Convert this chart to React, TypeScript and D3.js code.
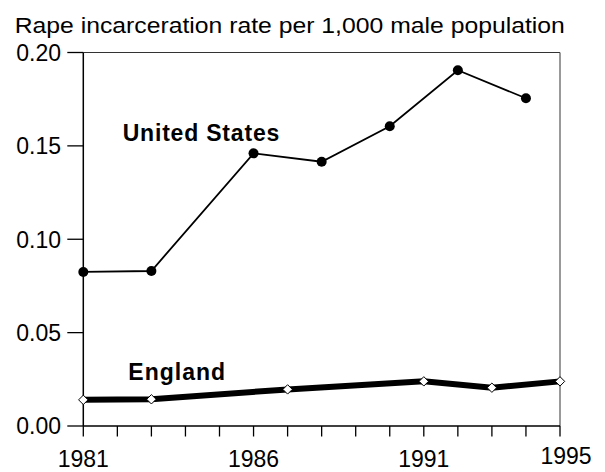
import React from "react";
import * as d3 from "d3";

const title = "Rape incarceration rate per 1,000 male population";
const usYears = [1981, 1983, 1986, 1988, 1990, 1992, 1994];
const usValues = [0.0825, 0.083, 0.146, 0.1415, 0.1605, 0.1905, 0.1755];
const engYears = [1981, 1983, 1987, 1991, 1993, 1995];
const engValues = [0.014, 0.0143, 0.0196, 0.0239, 0.0205, 0.0239];
const yTicks = [0, 0.05, 0.1, 0.15, 0.2];
const xTickLabels = [1981, 1986, 1991, 1995];
const seriesLabels = ["United States", "England"];

const W = 605, H = 472;
const L = 83.3, R = 560, T = 52.5, B = 426;
const FONT = "'Liberation Sans', Arial, Helvetica, sans-serif";

export default function App() {
  const x = d3.scaleLinear().domain([1981, 1995]).range([L, R]);
  const y = d3.scaleLinear().domain([0, 0.2]).range([B, T]);
  const line = d3.line<[number, number]>().x(d => x(d[0])).y(d => y(d[1]));
  const us: [number, number][] = usYears.map((yr, i) => [yr, usValues[i]]);
  const eng: [number, number][] = engYears.map((yr, i) => [yr, engValues[i]]);
  const years = d3.range(1981, 1996);
  const dS = 4.7;
  return (
    <svg width={W} height={H} style={{ position: "absolute", left: 0, top: 0, background: "#fff" }}>
      <text x={14.7} y={33} fontFamily={FONT} fontSize={22} fill="#000"
        transform="translate(14.7,0) scale(1.125,1) translate(-14.7,0)">{title}</text>
      {/* frame */}
      <line x1={L} x2={R} y1={T} y2={T} stroke="#333" strokeWidth={1.2} />
      <line x1={R} x2={R} y1={T} y2={B} stroke="#555" strokeWidth={1.2} />
      <line x1={L} x2={L} y1={T} y2={B} stroke="#000" strokeWidth={1.5} />
      <line x1={L} x2={R} y1={B} y2={B} stroke="#000" strokeWidth={1.5} />
      {/* y ticks */}
      {yTicks.map(t => (
        <g key={t}>
          <line x1={L - 16} x2={L} y1={y(t)} y2={y(t)} stroke="#000" strokeWidth={1.3} />
          <text x={61} y={y(t)} dy="0.36em" textAnchor="end" fontFamily={FONT} fontSize={23} fill="#000">
            {d3.format(".2f")(t)}
          </text>
        </g>
      ))}
      {/* x ticks */}
      {years.map(yr => (
        <line key={yr} x1={x(yr)} x2={x(yr)} y1={B} y2={B + 10.5} stroke="#000" strokeWidth={1.3} />
      ))}
      {xTickLabels.map((yr, i) => {
        const last = i === xTickLabels.length - 1;
        return (
          <text key={yr} x={x(yr) + (last ? 6 : 0)} y={last ? 464 : 467.3} textAnchor="middle"
            fontFamily={FONT} fontSize={23} fill="#000">{yr}</text>
        );
      })}
      {/* US */}
      <path d={line(us) || ""} fill="none" stroke="#000" strokeWidth={1.8} />
      {us.map((d, i) => (
        <circle key={i} cx={x(d[0])} cy={y(d[1])} r={5} fill="#000" />
      ))}
      {/* England */}
      <path d={line(eng) || ""} fill="none" stroke="#000" strokeWidth={6} strokeLinejoin="miter" />
      {eng.map((d, i) => {
        const cx = x(d[0]), cy = y(d[1]);
        return (
          <path key={i} d={`M${cx},${cy - dS}L${cx + dS},${cy}L${cx},${cy + dS}L${cx - dS},${cy}Z`}
            fill="#fff" stroke="#000" strokeWidth={1} />
        );
      })}
      <text x={122.7} y={140.7} fontFamily={FONT} fontSize={23} fontWeight="bold" letterSpacing={0.8} fill="#000">
        {seriesLabels[0]}
      </text>
      <text x={128.3} y={379.5} fontFamily={FONT} fontSize={23} fontWeight="bold" letterSpacing={1} fill="#000">
        {seriesLabels[1]}
      </text>
    </svg>
  );
}
